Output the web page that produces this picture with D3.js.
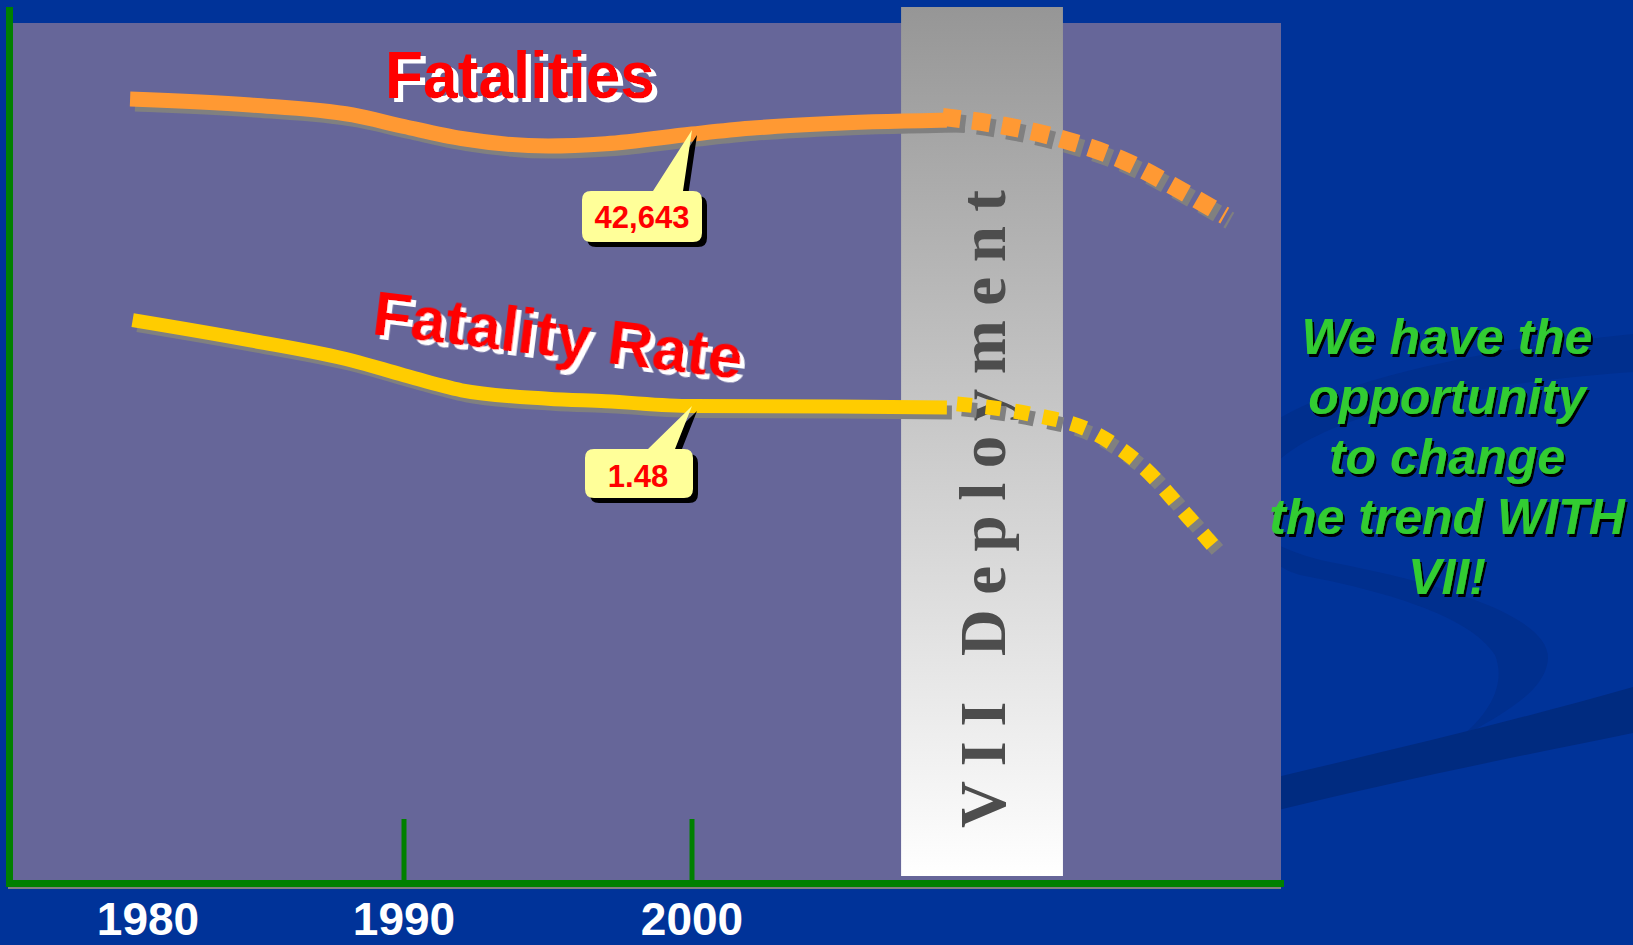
<!DOCTYPE html>
<html>
<head>
<meta charset="utf-8">
<script src="https://cdn.jsdelivr.net/npm/d3@7"></script>
<style>
  html, body { margin: 0; padding: 0; background: #003399; overflow: hidden; }
</style>
</head>
<body>
<script>
// ---- data ----
const labelYears = [1980, 1990, 2000];
const tickLabels = ["1980", "1990", "2000"];
const tickYears = [1990, 2000];

// Fatalities (solid = history, dotted = projection)
const fatYears = [1979.3, 1984, 1988, 1990, 1992, 1995, 1997, 2000, 2002, 2005, 2009.3];
const fatValues = [44640, 44300, 43730, 43075, 42390, 41960, 42090, 42643, 42970, 43260, 43440];
const fatProjYears = [2008.7, 2011, 2013, 2015, 2017, 2018.5];
const fatProjValues = [43620, 43070, 42290, 41130, 39410, 38000];

// Fatality rate
const rateYears = [1979.4, 1984, 1988, 1990, 1992, 1995, 1997, 2000, 2005, 2008.85];
const rateValues = [1.747, 1.684, 1.621, 1.576, 1.529, 1.503, 1.495, 1.48, 1.479, 1.476];
const rateProjYears = [2009.2, 2011.7, 2013.9, 2015.7, 2017.2, 2018.2];
const rateProjValues = [1.487, 1.456, 1.400, 1.288, 1.139, 1.036];

const deployRange = [2007.26, 2012.88];

const callouts = [
  { series: "fat", year: 2000, value: 42643, label: "42,643" },
  { series: "rate", year: 2000, value: 1.48, label: "1.48" }
];

const messageLines = ["We have the", "opportunity", "to change", "the trend WITH", "VII!"];

// ---- layout ----
const W = 1633, H = 945;
const plot = { left: 13, right: 1281, top: 23, bottom: 883 };
const sans = "Liberation Sans, Arial, sans-serif";

const svg = d3.select("body").append("svg")
  .attr("width", W)
  .attr("height", H);

const x = d3.scaleLinear().domain(labelYears).range([148, 404, 692]);
const yFat = d3.scaleLinear().domain([0, 48000]).range([plot.bottom, 40]);
const yRate = d3.scaleLinear().domain([0, 1.8]).range([plot.bottom, 303]);

const defs = svg.append("defs");
const grad = defs.append("linearGradient")
  .attr("id", "band")
  .attr("x1", 0).attr("y1", 0).attr("x2", 0).attr("y2", 1);
grad.append("stop").attr("offset", "0%").attr("stop-color", "#969696");
grad.append("stop").attr("offset", "100%").attr("stop-color", "#ffffff");

function shadowFilter(id, color, dx, dy) {
  defs.append("filter")
    .attr("id", id)
    .attr("x", "-10%").attr("y", "-20%").attr("width", "130%").attr("height", "150%")
    .append("feDropShadow")
    .attr("dx", dx).attr("dy", dy)
    .attr("stdDeviation", 0)
    .attr("flood-color", color)
    .attr("flood-opacity", 1);
}
shadowFilter("whiteShadow", "#ffffff", 5, 4);
shadowFilter("blackShadow", "#000000", 2, 3);

// background
svg.append("rect").attr("width", W).attr("height", H).attr("fill", "#003399");

// swooshes on the right
svg.append("path")
  .attr("fill", "#002f8e")
  .attr("d", "M1633,334 C1450,352 1300,390 1250,440 C1200,500 1250,545 1330,562 " +
             "C1450,585 1560,620 1547,665 C1540,695 1500,715 1457,740 " +
             "C1495,710 1505,680 1495,655 C1470,615 1380,590 1300,575 " +
             "C1260,565 1240,520 1270,470 C1310,420 1450,385 1633,372 Z");
svg.append("path")
  .attr("fill", "#002b80")
  .attr("d", "M1200,795 C1350,760 1500,725 1633,687 L1633,733 C1500,760 1350,790 1200,830 Z");

// plot area
svg.append("rect")
  .attr("x", plot.left).attr("y", plot.top)
  .attr("width", plot.right - plot.left).attr("height", plot.bottom - plot.top)
  .attr("fill", "#666699");

// deployment band
svg.append("rect")
  .attr("x", x(deployRange[0])).attr("y", 7)
  .attr("width", x(deployRange[1]) - x(deployRange[0]))
  .attr("height", 876 - 7)
  .attr("fill", "url(#band)");

svg.append("text")
  .attr("transform", "translate(1005,828) rotate(-90)")
  .attr("font-family", "Liberation Serif, Times New Roman, serif")
  .attr("font-weight", "bold")
  .attr("font-size", 65)
  .attr("fill", "#4d4d4d")
  .attr("textLength", 638)
  .attr("lengthAdjust", "spacing")
  .text("VII Deployment");

// lines
const lineFat = d3.line().x(d => x(d[0])).y(d => yFat(d[1])).curve(d3.curveMonotoneX);
const lineRate = d3.line().x(d => x(d[0])).y(d => yRate(d[1])).curve(d3.curveMonotoneX);

function drawLine(gen, years, values, color, width, dash) {
  const pts = d3.zip(years, values);
  const g = svg.append("g");
  g.append("path")
    .attr("d", gen(pts))
    .attr("transform", "translate(5,5)")
    .attr("fill", "none")
    .attr("stroke", "#808080")
    .attr("stroke-width", width)
    .attr("stroke-dasharray", dash);
  g.append("path")
    .attr("d", gen(pts))
    .attr("fill", "none")
    .attr("stroke", color)
    .attr("stroke-width", width)
    .attr("stroke-dasharray", dash);
}

drawLine(lineFat, fatYears, fatValues, "#ff9933", 15, null);
drawLine(lineFat, fatProjYears, fatProjValues, "#ff9933", 18, "18 12");
drawLine(lineRate, rateYears, rateValues, "#ffcc00", 14, null);
drawLine(lineRate, rateProjYears, rateProjValues, "#ffcc00", 15, "15 14");

// axes
svg.append("rect").attr("x", 8).attr("y", 887).attr("width", 1273).attr("height", 2).attr("fill", "#808080");
svg.append("rect").attr("x", 6).attr("y", 7).attr("width", 7).attr("height", 880).attr("fill", "#008000");
svg.append("rect").attr("x", 6).attr("y", 880).attr("width", 1278).attr("height", 7).attr("fill", "#008000");

svg.selectAll(".tick")
  .data(tickYears)
  .enter()
  .append("rect")
  .attr("class", "tick")
  .attr("x", d => x(d) - 2.5)
  .attr("y", 819)
  .attr("width", 5)
  .attr("height", 62)
  .attr("fill", "#008000");

svg.selectAll(".tick-label")
  .data(labelYears)
  .enter()
  .append("text")
  .attr("class", "tick-label")
  .attr("x", d => x(d))
  .attr("y", 935)
  .attr("text-anchor", "middle")
  .attr("font-family", sans)
  .attr("font-weight", "bold")
  .attr("font-size", 46)
  .attr("fill", "#ffffff")
  .text((d, i) => tickLabels[i]);

// series titles
svg.append("text")
  .attr("x", 385).attr("y", 98)
  .attr("font-family", sans).attr("font-weight", "bold").attr("font-size", 66)
  .attr("textLength", 270).attr("lengthAdjust", "spacingAndGlyphs")
  .attr("fill", "#ff0000")
  .attr("filter", "url(#whiteShadow)")
  .text("Fatalities");

svg.append("g")
  .attr("transform", "translate(371,334) rotate(7)")
  .append("text")
  .attr("font-family", sans).attr("font-weight", "bold").attr("font-size", 63)
  .attr("textLength", 372).attr("lengthAdjust", "spacingAndGlyphs")
  .attr("fill", "#ff0000")
  .attr("filter", "url(#whiteShadow)")
  .text("Fatality Rate");

// callouts
const boxOffsets = {
  fat:  { x0: -110, x1: 10, y0: 57, y1: 108, p0: -39, p1: -9, tipDy: -4, ty: 94, tx: -50 },
  rate: { x0: -107, x1: 1, y0: 43, y1: 92, p0: -44, p1: -17, tipDy: 0, ty: 81, tx: -54 }
};

function calloutPath(cx, cy, o) {
  const r = 9;
  const x0 = cx + o.x0, x1 = cx + o.x1, y0 = cy + o.y0, y1 = cy + o.y1;
  return `M${x0 + r},${y0} L${cx + o.p0},${y0} L${cx},${cy + o.tipDy} L${cx + o.p1},${y0} ` +
    `L${x1 - r},${y0} Q${x1},${y0} ${x1},${y0 + r} L${x1},${y1 - r} Q${x1},${y1} ${x1 - r},${y1} ` +
    `L${x0 + r},${y1} Q${x0},${y1} ${x0},${y1 - r} L${x0},${y0 + r} Q${x0},${y0} ${x0 + r},${y0} Z`;
}

callouts.forEach(c => {
  const cx = x(c.year);
  const cy = c.series === "fat" ? yFat(c.value) : yRate(c.value);
  const o = boxOffsets[c.series];
  svg.append("path").attr("d", calloutPath(cx, cy, o)).attr("transform", "translate(5,5)").attr("fill", "#000000");
  svg.append("path").attr("d", calloutPath(cx, cy, o)).attr("fill", "#ffff99");
  svg.append("text")
    .attr("x", cx + o.tx).attr("y", cy + o.ty)
    .attr("text-anchor", "middle")
    .attr("font-family", sans).attr("font-weight", "bold").attr("font-size", 31)
    .attr("fill", "#ff0000")
    .text(c.label);
});

// message on the right
svg.append("g")
  .selectAll("text")
  .data(messageLines)
  .enter()
  .append("text")
  .attr("x", 1447)
  .attr("y", (d, i) => 354 + i * 60)
  .attr("text-anchor", "middle")
  .attr("font-family", sans).attr("font-weight", "bold").attr("font-style", "italic")
  .attr("font-size", 50)
  .attr("fill", "#33cc33")
  .attr("filter", "url(#blackShadow)")
  .text(d => d);
</script>
</body>
</html>
